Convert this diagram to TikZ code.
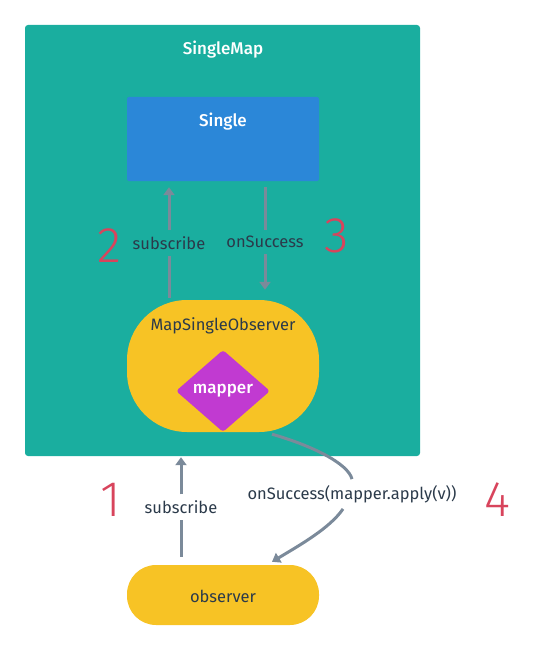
\documentclass[tikz,border=0pt]{standalone}
\usepackage{fontspec}
\setmainfont{Fira Sans}
\newfontfamily\numfont{Fira Sans Light}
\newfontfamily\medfont{Fira Sans Medium}
\usetikzlibrary{arrows.meta,shapes.geometric}
\definecolor{mapTeal}{RGB}{26,174,159}
\definecolor{singleBlue}{RGB}{43,135,216}
\definecolor{obsYellow}{RGB}{247,195,37}
\definecolor{mapperViolet}{RGB}{193,58,209}
\definecolor{arrowGray}{RGB}{123,138,154}
\definecolor{numRed}{RGB}{216,68,92}
\definecolor{textDark}{RGB}{43,58,74}

\begin{document}
\begin{tikzpicture}[x=1pt,y=-1pt,
    box/.style={draw=none, inner sep=0pt, minimum width=192pt},
    darktxt/.style={text=textDark, font=\fontsize{16.5}{18}\selectfont, inner sep=6pt},
    whitetxt/.style={text=white, font=\medfont\fontsize{17}{19}\selectfont},
    flow/.style={draw=arrowGray, line width=3pt},
    tip/.style={-{Triangle[width=11pt,length=8pt]}},
    stepnum/.style={text=numRed, font=\numfont\fontsize{50}{50}\selectfont}]

        \useasboundingbox (0,0) rectangle (542,650);

        % outer box
        \node[box, fill=mapTeal, minimum width=395pt, minimum height=431pt,
              rounded corners=3pt] (singlemap) at (222.5,240.5) {};
        \node[whitetxt] (singlemaptitle) at (223,50) {SingleMap};

        % Single
        \node[box, fill=singleBlue, minimum height=84pt, rounded corners=2pt] (single) at (223,139) {};
        \node[whitetxt] (singletitle) at (223,122) {Single};

        % MapSingleObserver
        \node[box, fill=obsYellow, minimum height=132pt, rounded corners=60pt] (mso) at (223,366) {};
        \node[darktxt] (msotitle) at (223,326) {MapSingleObserver};
        \node[diamond, fill=mapperViolet, inner sep=0pt, minimum width=94pt, minimum height=82pt,
              rounded corners=3pt, whitetxt] (mapper) at (223,391) {mapper};

        % observer
        \node[box, fill=obsYellow, minimum height=60pt, rounded corners=29pt] (observer) at (223,595) {};
        \node[darktxt] (observertitle) at (223,596) {observer};

        % step 2 and 3
        \node[darktxt] (lab2) at (169,243) {subscribe};
        \node[darktxt] (lab3) at (265,242) {onSuccess};
        \node[stepnum] (num2) at (109,246) {2};
        \node[stepnum] (num3) at (337,236) {3};
        \draw[flow] ([xshift=-54pt,yshift=2pt]mso.north) -- (lab2.south);
        \draw[flow, tip] (lab2.north) -- ([xshift=-54pt,yshift=-6pt]single.south);
        \draw[flow] ([xshift=42pt,yshift=-6pt]single.south) -- (lab3.north);
        \draw[flow, tip] (lab3.south) -- ([xshift=42pt,yshift=10pt]mso.north);

        % step 1
        \node[darktxt] (lab1) at (181,507) {subscribe};
        \node[stepnum] (num1) at (111,500) {1};
        \draw[flow] ([xshift=-42pt,yshift=8pt]observer.north) -- (lab1.south);
        \draw[flow, tip] (lab1.north) -- ([yshift=-1pt]lab1 |- singlemap.south);

        % step 4
        \node[darktxt] (lab4) at (352,494) {onSuccess(mapper.apply(v))};
        \node[stepnum] (num4) at (497,500) {4};
        \draw[flow] ([xshift=49pt,yshift=-2pt]mso.south) .. controls (310,445) and (348,463) .. (lab4.north);
        \draw[flow, tip] ([xshift=-9pt]lab4.south) .. controls (330,528) and (300,545) .. ([xshift=49pt,yshift=3pt]observer.north);

\end{tikzpicture}
\end{document}
